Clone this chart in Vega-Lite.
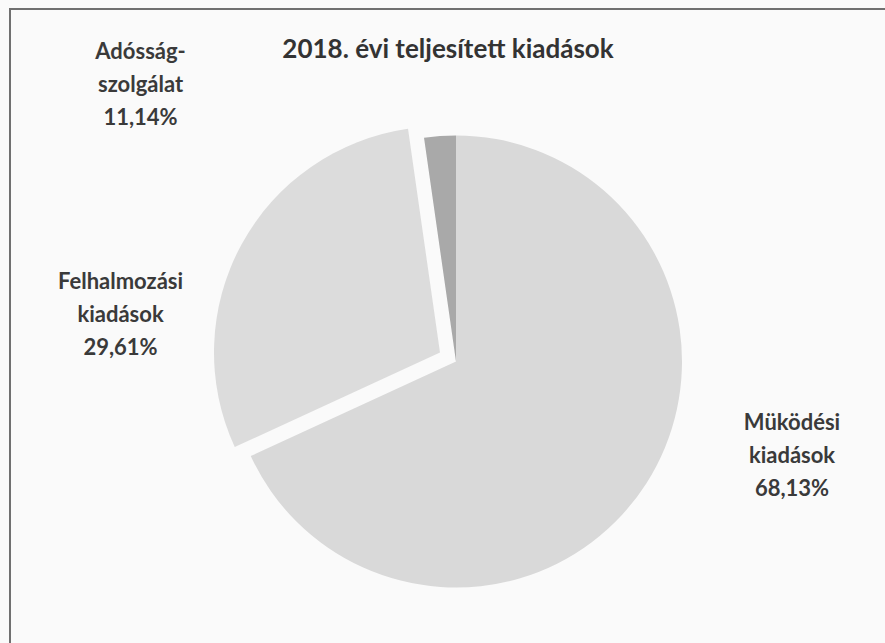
{
  "$schema": "https://vega.github.io/schema/vega-lite/v6.json",
  "width": 876,
  "height": 635,
  "autosize": "none",
  "padding": {"left": 10, "top": 9, "right": -1, "bottom": -1},
  "background": "#fafafa",
  "view": {"stroke": "#707070", "strokeWidth": 2, "fill": "#fafafa"},
  "config": {
    "font": "Lato"
  },
  "title": {
    "text": "2018. évi teljesített kiadások",
    "fontSize": 26,
    "fontWeight": "bold",
    "font": "Lato",
    "color": "#333333",
    "anchor": "middle",
    "offset": -54
  },
  "data": {
    "values": [
      {"kategoria": "Működési kiadások", "rank": 1, "ertek": 68.13, "cimke": ["Müködési", "kiadások", "68,13%"]},
      {"kategoria": "Felhalmozási kiadások", "rank": 2, "ertek": 29.61, "cimke": ["Felhalmozási", "kiadások", "29,61%"]},
      {"kategoria": "Adósságszolgálat", "rank": 3, "ertek": 2.26, "cimke": ["Adósság-", "szolgálat", "11,14%"]}
    ]
  },
  "layer": [
    {
      "mark": {"type": "arc", "outerRadius": 226, "xOffset": 8, "yOffset": 35},
      "encoding": {
        "theta": {"field": "ertek", "type": "quantitative", "stack": true},
        "order": {"field": "rank", "type": "quantitative"},
        "color": {
          "field": "kategoria", "type": "nominal", "legend": null,
          "scale": {"domain": ["Működési kiadások", "Felhalmozási kiadások", "Adósságszolgálat"], "range": ["#d9d9d9", "#dcdcdc", "#a9a9a9"]}
        },
        "opacity": {"condition": {"test": "datum.kategoria === 'Felhalmozási kiadások'", "value": 0}, "value": 1}
      }
    },
    {
      "mark": {"type": "arc", "outerRadius": 226, "xOffset": -8, "yOffset": 26},
      "encoding": {
        "theta": {"field": "ertek", "type": "quantitative", "stack": true},
        "order": {"field": "rank", "type": "quantitative"},
        "color": {
          "field": "kategoria", "type": "nominal", "legend": null,
          "scale": {"domain": ["Működési kiadások", "Felhalmozási kiadások", "Adósságszolgálat"], "range": ["#d9d9d9", "#dcdcdc", "#a9a9a9"]}
        },
        "opacity": {"condition": {"test": "datum.kategoria === 'Felhalmozási kiadások'", "value": 1}, "value": 0}
      }
    },
    {
      "transform": [
        {"stack": "ertek", "groupby": [], "sort": [{"field": "rank", "order": "ascending"}], "as": ["t0", "t1"]},
        {"filter": "datum.kategoria === 'Működési kiadások'"}
      ],
      "mark": {"type": "text", "radius": 300, "dx": 344, "dy": 396, "fontSize": 22, "fontWeight": "bold", "color": "#3a3a3a", "lineHeight": 33, "align": "center", "baseline": "middle"},
      "encoding": {
        "theta": {"field": "t0", "type": "quantitative"},
        "text": {"field": "cimke"}
      }
    },
    {
      "transform": [
        {"stack": "ertek", "groupby": [], "sort": [{"field": "rank", "order": "ascending"}], "as": ["t0", "t1"]},
        {"filter": "datum.kategoria === 'Felhalmozási kiadások'"}
      ],
      "mark": {"type": "text", "radius": 300, "dx": -55, "dy": -170, "fontSize": 22, "fontWeight": "bold", "color": "#3a3a3a", "lineHeight": 33, "align": "center", "baseline": "middle"},
      "encoding": {
        "theta": {"field": "t0", "type": "quantitative"},
        "text": {"field": "cimke"}
      }
    },
    {
      "transform": [
        {"stack": "ertek", "groupby": [], "sort": [{"field": "rank", "order": "ascending"}], "as": ["t0", "t1"]},
        {"filter": "datum.kategoria === 'Adósságszolgálat'"}
      ],
      "mark": {"type": "text", "radius": 300, "dx": -265, "dy": 22, "fontSize": 22, "fontWeight": "bold", "color": "#3a3a3a", "lineHeight": 33, "align": "center", "baseline": "middle"},
      "encoding": {
        "theta": {"field": "t0", "type": "quantitative"},
        "text": {"field": "cimke"}
      }
    }
  ]
}
